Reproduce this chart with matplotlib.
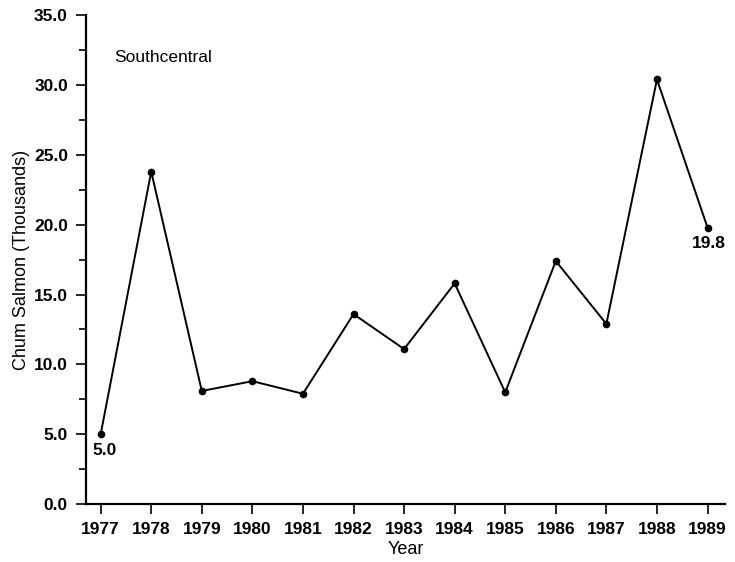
import matplotlib.pyplot as plt
from matplotlib.ticker import MultipleLocator

years = [1977, 1978, 1979, 1980, 1981, 1982, 1983, 1984, 1985, 1986, 1987, 1988, 1989]
chum = [5.0, 23.8, 8.1, 8.8, 7.9, 13.6, 11.1, 15.8, 8.0, 17.4, 12.9, 30.4, 19.8]
region = "Southcentral"

plt.rcParams['font.family'] = ['Liberation Sans', 'DejaVu Sans']

fig = plt.figure(figsize=(7.35, 5.62), dpi=100)
ax = fig.add_axes([0.117, 0.103, 0.869, 0.870])

ax.plot(years, chum, color='black', linewidth=1.4, marker='o', markersize=4.5)

# label first and last points
ax.annotate(f"{chum[0]:.1f}", (years[0], chum[0]), xytext=(3, -6), textcoords='offset points',
            ha='center', va='top', fontsize=12.5, fontweight='bold')
ax.annotate(f"{chum[-1]:.1f}", (years[-1], chum[-1]), xytext=(1, -6), textcoords='offset points',
            ha='center', va='top', fontsize=12.5, fontweight='bold')

ax.text(1977.26, 32.0, region, fontsize=12.5, va='center', ha='left')

ax.set_xlim(1976.71, 1989.34)
ax.set_ylim(0, 35)
ax.set_xticks(years)
ax.yaxis.set_major_locator(MultipleLocator(5))
ax.yaxis.set_minor_locator(MultipleLocator(2.5))
ax.set_yticklabels([f"{v:.1f}" for v in ax.get_yticks()])

for lbl in ax.get_xticklabels() + ax.get_yticklabels():
    lbl.set_fontweight('bold')
    lbl.set_fontsize(12.5)

ax.tick_params(axis='both', which='major', length=7, width=1.2, direction='out', pad=6)
ax.tick_params(axis='y', which='minor', length=5, width=1.2, direction='out')

ax.spines['top'].set_visible(False)
ax.spines['right'].set_visible(False)
ax.spines['left'].set_linewidth(1.6)
ax.spines['bottom'].set_linewidth(1.6)

ax.set_xlabel("Year", fontsize=13, labelpad=3)
ax.set_ylabel("Chum Salmon (Thousands)", fontsize=13, labelpad=3)

plt.savefig("out.png", dpi=100)
